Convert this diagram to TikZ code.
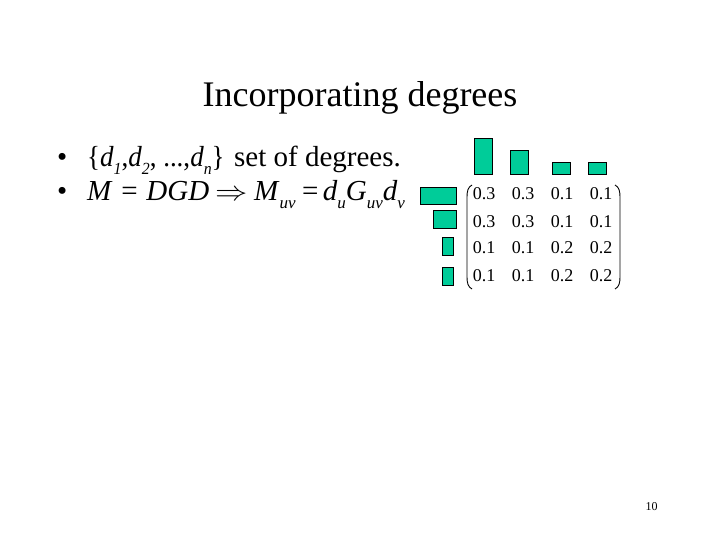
\documentclass[tikz,border=0pt]{standalone}
\usepackage{fontspec}
\usepackage{graphicx}
\setmainfont{Liberation Serif}
\definecolor{barfill}{HTML}{00CC99}
\newcommand\lsub[1]{\raisebox{-0.25em}{\fontsize{17}{17}\selectfont\itshape #1}}
\begin{document}
\begin{tikzpicture}[x=1pt,y=-1pt,
  bar/.style={draw=black,line width=0.9pt,fill=barfill},
  cell/.style={anchor=base,inner sep=0pt,font=\fontsize{18}{18}\selectfont},
  txt/.style={anchor=base west,inner sep=0pt,font=\fontsize{29}{32}\selectfont},
  paren/.style={draw=black,line width=0.9pt}]
\useasboundingbox (0,0) rectangle (720,540);
\fill[white] (0,0) rectangle (720,540);
% title
\node[anchor=base,inner sep=0pt,font=\fontsize{36}{40}\selectfont] (title) at (360,107) {Incorporating degrees};
% bullet lines
\node[txt] (b1) at (57,167) {•};
\node[txt] (l1a) at (87,167) {\scalebox{0.93}[1]{\{\textit{d}\lsub{1},\textit{d}\lsub{2}, ...,\textit{d}\lsub{n}\}}};
\node[txt] (l1b) at (234,167) {set of degrees.};
\node[txt] (b2) at (57,201) {•};
\node[txt] (l2a) at (87,201) {\textit{M}\hspace{0.3em}=\hspace{0.3em}\textit{DGD}};
\node[txt] (l2b) at (215,201) {\scalebox{1.3}[1.1]{$\Rightarrow$}};
\node[txt] (l2c) at (254,201) {\textit{M}\lsub{uv}\hspace{0.22em}=\hspace{0.15em}\textit{d}\lsub{u}\textit{G}\lsub{uv}\textit{d}\lsub{v}};
% top bars
\draw[bar] (474,138) rectangle (492,174);
\draw[bar] (510,150) rectangle (528,174);
\draw[bar] (552,162) rectangle (570,174);
\draw[bar] (588,162) rectangle (606,174);
% left bars
\draw[bar] (420,187) rectangle (456,204);
\draw[bar] (433,210) rectangle (456,228);
\draw[bar] (442,237) rectangle (453,255);
\draw[bar] (442,267) rectangle (453,285);
% matrix
\node[cell] (m11) at (484,200) {0.3};
\node[cell] (m12) at (523,200) {0.3};
\node[cell] (m13) at (562,200) {0.1};
\node[cell] (m14) at (601,200) {0.1};
\node[cell] (m21) at (484,227) {0.3};
\node[cell] (m22) at (523,227) {0.3};
\node[cell] (m23) at (562,227) {0.1};
\node[cell] (m24) at (601,227) {0.1};
\node[cell] (m31) at (484,254) {0.1};
\node[cell] (m32) at (523,254) {0.1};
\node[cell] (m33) at (562,254) {0.2};
\node[cell] (m34) at (601,254) {0.2};
\node[cell] (m41) at (484,281) {0.1};
\node[cell] (m42) at (523,281) {0.1};
\node[cell] (m43) at (562,281) {0.2};
\node[cell] (m44) at (601,281) {0.2};
% parentheses
\draw[paren] (472,185) .. controls (468,187) and (467,191) .. (467,197) -- (467,277) .. controls (467,283) and (468,287) .. (472,289);
\draw[paren] (615,185) .. controls (619,187) and (620,191) .. (620,197) -- (620,277) .. controls (620,283) and (619,287) .. (615,289);
% page number
\node[anchor=base,inner sep=0pt,font=\fontsize{12}{12}\selectfont] (pg) at (651.5,510) {10};
\end{tikzpicture}
\end{document}
